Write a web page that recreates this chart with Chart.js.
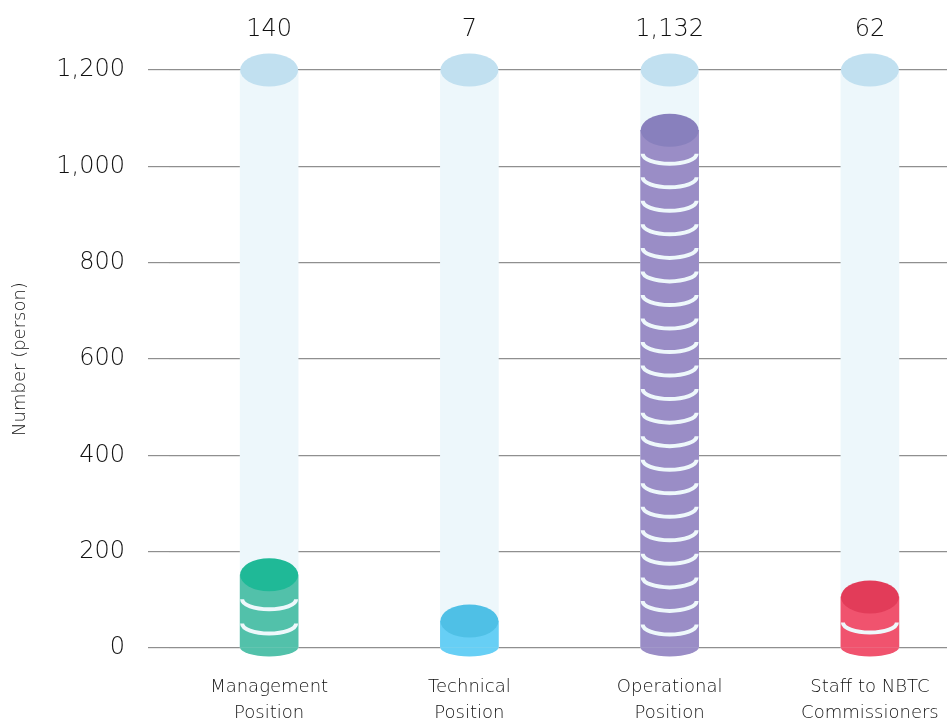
<!DOCTYPE html>
<html>
<head>
<meta charset="utf-8">
<script src="https://cdn.jsdelivr.net/npm/chart.js@4.4.1/dist/chart.umd.min.js"></script>
<style>
  html, body { margin: 0; padding: 0; background: #fff; }
  #wrap { width: 947px; height: 722px; }
</style>
</head>
<body>
<div id="wrap"><canvas id="staffChart"></canvas></div>
<script>
const categories = [
    ['Management', 'Position'],
    ['Technical', 'Position'],
    ['Operational', 'Position'],
    ['Staff to NBTC', 'Commissioners']
];
const headcounts = [140, 7, 1132, 62];
// height of each drawn disc stack, and how many discs are in it
const stackTops = [152, 56, 1075, 106];
const discCounts = [3, 1, 22, 2];
const columnMax = [1200, 1200, 1200, 1200];
const yTicks = [0, 200, 400, 600, 800, 1000, 1200];

const topColors = ['#1fb997', '#4fc0e6', '#8880bd', '#e23c59'];
const bodyColors = ['#52c1aa', '#67cff5', '#9a8dc6', '#f0536e'];
const columnBody = '#edf7fb';
const columnTop = '#c1e0f0';
const gapColor = '#eef8fb';
const textColor = '#111111';
const fontFamily = "'DejaVu Sans', sans-serif";
const fontWeight = 200;

// draws the round tops, bottoms and disc gaps over the plain bars
const cylinders = {
    id: 'cylinders',
    afterDatasetsDraw(chart) {
        const ctx = chart.ctx;
        const yScale = chart.scales.y;
        const back = chart.getDatasetMeta(0);
        const front = chart.getDatasetMeta(1);
        const topRy = 16.5;
        const lowRy = 10;

        ctx.save();
        back.data.forEach(bar => {
            ctx.fillStyle = columnTop;
            ctx.beginPath();
            ctx.ellipse(bar.x, bar.y, bar.width / 2, topRy, 0, 0, Math.PI * 2);
            ctx.fill();
        });

        front.data.forEach((bar, i) => {
            const rx = bar.width / 2;
            ctx.fillStyle = bodyColors[i];
            ctx.beginPath();
            ctx.ellipse(bar.x, bar.base, rx, lowRy - 1, 0, 0, Math.PI);
            ctx.fill();

            const step = stackTops[i] / discCounts[i];
            ctx.strokeStyle = gapColor;
            ctx.lineWidth = 4;
            for (let k = 1; k < discCounts[i]; k++) {
                const py = yScale.getPixelForValue(k * step);
                ctx.beginPath();
                ctx.ellipse(bar.x, py, rx - 2, lowRy, 0, 0, Math.PI);
                ctx.stroke();
            }

            ctx.fillStyle = topColors[i];
            ctx.beginPath();
            ctx.ellipse(bar.x, bar.y, rx, topRy, 0, 0, Math.PI * 2);
            ctx.fill();
        });

        // head count above each column
        ctx.fillStyle = textColor;
        ctx.font = `${fontWeight} 24px ${fontFamily}`;
        ctx.textAlign = 'center';
        ctx.textBaseline = 'middle';
        back.data.forEach((bar, i) => {
            ctx.fillText(headcounts[i].toLocaleString('en-US'), bar.x, chart.chartArea.top - 40);
        });
        ctx.restore();
    }
};

const ctx = document.getElementById('staffChart').getContext('2d');
const staffChart = new Chart(ctx, {
    type: 'bar',
    data: {
        datasets: [{
            label: 'Column',
            data: columnMax.map((v, i) => ({ x: i, y: v })),
            backgroundColor: columnBody,
            barThickness: 58,
            grouped: false,
            order: 2
        }, {
            label: 'Staff',
            data: stackTops.map((v, i) => ({ x: i, y: v })),
            backgroundColor: bodyColors,
            barThickness: 58,
            grouped: false,
            order: 1
        }]
    },
    options: {
        responsive: true,
        maintainAspectRatio: false,
        animation: false,
        locale: 'en-US',
        layout: {
            padding: { top: 70, right: 0, bottom: 0, left: 0 }
        },
        plugins: {
            legend: { display: false },
            tooltip: { enabled: false }
        },
        scales: {
            x: {
                type: 'linear',
                offset: false,
                bounds: 'data',
                min: -0.5,
                max: 3.385,
                afterBuildTicks(scale) { scale.ticks = categories.map((c, i) => ({ value: i })); },
                grid: { display: false, drawTicks: false },
                border: { display: false },
                ticks: {
                    color: textColor,
                    padding: 26,
                    autoSkip: false,
                    maxRotation: 0,
                    callback: (value) => categories[value],
                    font: { family: fontFamily, size: 18, weight: fontWeight, lineHeight: 1.45 }
                },
                afterFit(scale) {
                    scale.height = 74;
                    scale.paddingLeft = 0;
                    scale.paddingRight = 0;
                }
            },
            y: {
                min: 0,
                max: 1200,
                afterBuildTicks(scale) { scale.ticks = yTicks.map(v => ({ value: v })); },
                grid: { color: '#8f8f8f', lineWidth: 1.2, tickLength: 21 },
                border: { display: false },
                ticks: {
                    color: textColor,
                    padding: 23,
                    font: { family: fontFamily, size: 24, weight: fontWeight }
                },
                title: {
                    display: true,
                    text: 'Number (person)',
                    color: textColor,
                    padding: { top: 10, bottom: 0 },
                    font: { family: fontFamily, size: 18, weight: fontWeight }
                },
                afterFit(scale) { scale.width = 169; }
            }
        }
    },
    plugins: [cylinders]
});
</script>
</body>
</html>
